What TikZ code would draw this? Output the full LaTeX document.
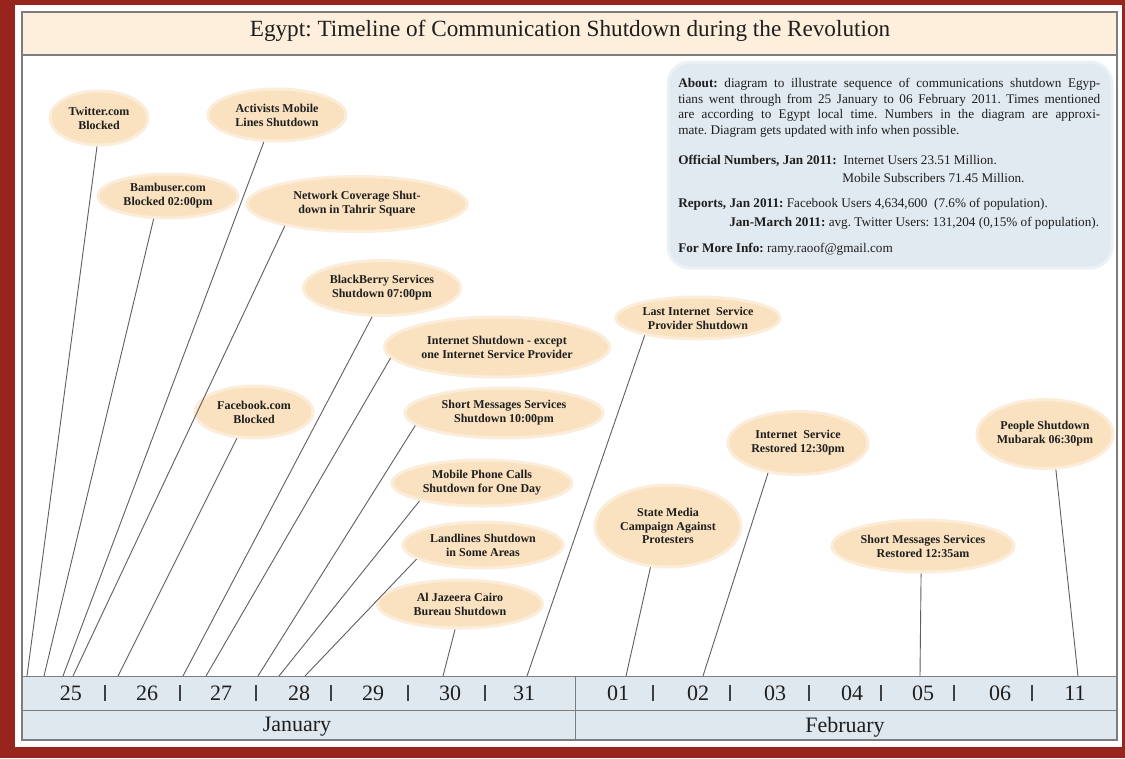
\documentclass[tikz,border=0pt]{standalone}
\usepackage{fontspec}
\setmainfont{Liberation Serif}
\usetikzlibrary{shapes.geometric}
\frenchspacing
\definecolor{bordred}{RGB}{152,36,30}
\definecolor{titlecream}{RGB}{253,239,219}
\definecolor{peach}{RGB}{250,226,192}
\definecolor{peachedge}{RGB}{252,237,218}
\definecolor{aboutblue}{RGB}{226,234,241}
\definecolor{aboutedge}{RGB}{236,241,246}
\definecolor{axisblue}{RGB}{224,232,239}
\definecolor{framegray}{RGB}{125,125,125}
\definecolor{linegray}{RGB}{95,95,95}
\definecolor{txt}{RGB}{30,30,30}
\newdimen\pxu \pxu=0.75pt
\newcommand{\evfont}{\fontsize{9pt}{10.4pt}\selectfont\bfseries}
\newcommand{\abfont}{\fontsize{9.9pt}{11pt}\selectfont}
\newcommand{\dayfont}{\fontsize{16.5pt}{18pt}\selectfont}
\tikzset{
  ev/.style={ellipse, fill=peach, draw=peachedge, line width=3\pxu, inner sep=0pt, align=center, font=\evfont, text=txt},
  conn/.style={draw=linegray, line width=0.9\pxu},
  abt/.style={anchor=base west, inner sep=0pt, font=\abfont, text=txt},
  daylbl/.style={inner sep=0pt, font=\dayfont, text=txt},
  tick/.style={draw=txt!85, line width=1.1\pxu},
}
\begin{document}
\begin{tikzpicture}[x=0.75pt, y=-0.75pt]
\useasboundingbox (0,0) rectangle (1125,758);
% background and border
\fill[bordred] (0,0) rectangle (1125,758);
\fill[white] (15,5) rectangle (1122,747);
% title band
\fill[titlecream] (22,12) rectangle (1117,55);
\draw[framegray, line width=1.2\pxu] (22,55) -- (1117,55);
\node[inner sep=0pt, font=\fontsize{17.4pt}{19pt}\selectfont, text=txt] (title) at (570,31) {Egypt: Timeline of Communication Shutdown during the Revolution};
% axis rows
\fill[axisblue] (22,676) rectangle (1117,740);
\draw[framegray, line width=1\pxu] (22,676) -- (1117,676);
\draw[framegray, line width=1\pxu] (22,710) -- (1117,710);
\draw[framegray, line width=1\pxu] (575,676) -- (575,740);
% frame
\draw[framegray, line width=1.5\pxu] (22,12) rectangle (1117,740);

% about box
\fill[aboutblue, draw=aboutedge, line width=3\pxu, rounded corners=22\pxu] (668,62) rectangle (1112,268);
\node[abt] (ab1) at (678,87) {\makebox[422\pxu][s]{\textbf{About:} diagram to illustrate sequence of communications shutdown Egyp-}};
\node[abt] (ab2) at (678,103) {\makebox[422\pxu][s]{tians went through from 25 January to 06 February 2011. Times mentioned}};
\node[abt] (ab3) at (678,118) {\makebox[422\pxu][s]{are according to Egypt local time. Numbers in the diagram are approxi-}};
\node[abt] (ab4) at (678,134) {mate. Diagram gets updated with info when possible.};
\node[abt] (ab5) at (678,164) {\makebox[165\pxu][l]{\textbf{Official Numbers, Jan 2011:}}Internet Users 23.51 Million.};
\node[abt] (ab6) at (842,182) {Mobile Subscribers 71.45 Million.};
\node[abt] (ab7) at (678,207) {\textbf{Reports, Jan 2011:} Facebook Users 4,634,600\ \ (7.6\% of population).};
\node[abt] (ab8) at (729,226) {\textbf{Jan-March 2011:} avg. Twitter Users: 131,204 (0,15\% of population).};
\node[abt] (ab9) at (678,252) {\textbf{For More Info:} ramy.raoof@gmail.com};

% day labels
\foreach \d/\x in {25/71,26/147,27/221,28/299,29/373,30/450,31/524,01/618,02/698,03/775,04/852,05/923,06/1000,11/1075}
  \node[daylbl] (day\d) at (\x,693) {\d};
\foreach \x in {105,180,256,331,408,485,653,730,809,881,954,1032}
  \draw[tick] (\x,685) -- (\x,701);
\node[daylbl] (jan) at (297,727) {January};
\node[daylbl] (feb) at (845,727) {February};

% event ellipses
\node[ev, minimum width=98\pxu, minimum height=54\pxu] (twitter) at (99,118) {Twitter.com\\Blocked};
\node[ev, minimum width=138\pxu, minimum height=52\pxu] (activists) at (277,115) {Activists Mobile\\Lines Shutdown};
\node[ev, minimum width=140\pxu, minimum height=44\pxu] (bambuser) at (168,196) {Bambuser.com\\Blocked 02:00pm};
\node[ev, minimum width=220\pxu, minimum height=55\pxu] (network) at (357,204) {Network Coverage Shut-\\down in Tahrir Square};
\node[ev, minimum width=157\pxu, minimum height=55\pxu] (blackberry) at (382,288) {BlackBerry Services\\Shutdown 07:00pm};
\node[ev, minimum width=225\pxu, minimum height=60\pxu] (internet) at (497,347) {Internet Shutdown - except\\one Internet Service Provider};
\node[ev, minimum width=118\pxu, minimum height=52\pxu] (facebook) at (254,412) {Facebook.com\\Blocked};
\node[ev, minimum width=198\pxu, minimum height=50\pxu] (sms) at (504,413) {Short Messages Services\\Shutdown 10:00pm};
\node[ev, minimum width=180\pxu, minimum height=46\pxu] (mobile) at (482,483) {Mobile Phone Calls\\Shutdown for One Day};
\node[ev, minimum width=160\pxu, minimum height=46\pxu] (landlines) at (483,545) {Landlines Shutdown\\in Some Areas};
\node[ev, minimum width=165\pxu, minimum height=48\pxu] (jazeera) at (460,604) {Al Jazeera Cairo\\Bureau Shutdown};
\node[ev, minimum width=164\pxu, minimum height=42\pxu] (lastisp) at (698,318) {Last Internet\ \ Service\\Provider Shutdown};
\node[ev, minimum width=140\pxu, minimum height=63\pxu] (restored) at (798,443) {Internet\ \ Service\\Restored 12:30pm};
\node[ev, minimum width=146\pxu, minimum height=82\pxu] (statemedia) at (668,526) {State Media\\Campaign Against\\Protesters};
\node[ev, minimum width=182\pxu, minimum height=52\pxu] (smsrest) at (923,546) {Short Messages Services\\Restored 12:35am};
\node[ev, minimum width=134\pxu, minimum height=69\pxu] (people) at (1045,434) {People Shutdown\\Mubarak 06:30pm};

% axis end points
\coordinate (a1) at (27,676);
\coordinate (a2) at (44,676);
\coordinate (a3) at (63,676);
\coordinate (a4) at (73,676);
\coordinate (a5) at (118,676);
\coordinate (a6) at (183,676);
\coordinate (a7) at (206,676);
\coordinate (a8) at (258,676);
\coordinate (a9) at (279,676);
\coordinate (a10) at (305,676);
\coordinate (a11) at (443,676);
\coordinate (a12) at (527,676);
\coordinate (a13) at (626,676);
\coordinate (a14) at (703,676);
\coordinate (a15) at (920,676);
\coordinate (a16) at (1078,676);

% connectors
\draw[conn] (twitter.266) -- (a1);
\draw[conn] (bambuser.238) -- (a2);
\draw[conn] (activists.244) -- (a3);
\draw[conn] (network.197) -- (a4);
\draw[conn] (facebook.237) -- (a5);
\draw[conn] (blackberry.251) -- (a6);
\draw[conn] (internet.186) -- (a7);
\draw[conn] (sms.188) -- (a8);
\draw[conn] (mobile.196) -- (a9);
\draw[conn] (landlines.192) -- (a10);
\draw[conn] (jazeera.259) -- (a11);
\draw[conn] (lastisp.198) -- (a12);
\draw[conn] (statemedia.247) -- (a13);
\draw[conn] (restored.225) -- (a14);
\draw[conn] (smsrest.266) -- (a15);
\draw[conn] (people.287) -- (a16);
\end{tikzpicture}
\end{document}
